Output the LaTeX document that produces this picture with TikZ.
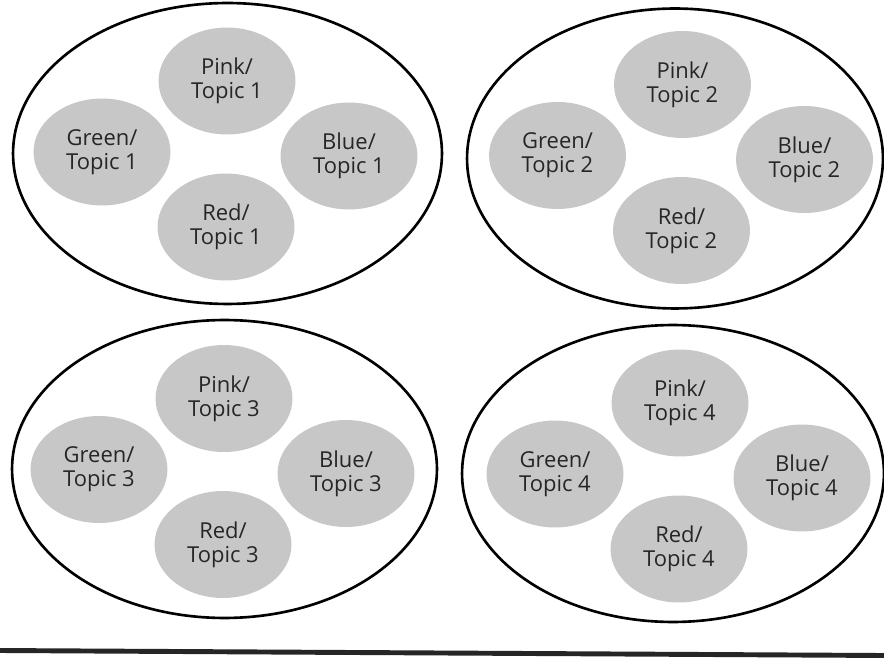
\documentclass[tikz,border=0pt]{standalone}
\usepackage{fontspec}
\setmainfont{Open Sans}
\usetikzlibrary{calc}
\usetikzlibrary{shapes}
\tikzset{
  ring/.style={draw, ellipse, line width=1.5pt, inner sep=0pt},
  topic/.style={ellipse, fill=black!22, inner sep=0pt, minimum width=2.74cm,
    minimum height=2.14cm, align=center, text=black!85,
    font=\fontsize{12.5}{13.6}\selectfont},
}
\newcommand{\topicring}[5]{
  \node[ring, minimum width=#3, minimum height=#4] (ring#1) at (#2) {};
  \node[topic] (pink#1) at ($(#5)+(1,-73)$) {Pink/\\Topic #1};
  \node[topic] (green#1) at ($(#5)+(-124,-2)$) {Green/\\Topic #1};
  \node[topic] (blue#1) at ($(#5)+(123,2)$) {Blue/\\Topic #1};
  \node[topic] (red#1) at ($(#5)+(0,73)$) {Red/\\Topic #1};
}

\begin{document}
\begin{tikzpicture}[x=0.02cm, y=-0.02cm]
  \useasboundingbox (0,0) rectangle (884,661);
  \topicring{1}{227.5,153.5}{8.58cm}{6.02cm}{226,154}
  \topicring{2}{675,158.5}{8.32cm}{6.0cm}{681.5,157.5}
  \topicring{3}{224.5,469}{8.5cm}{5.96cm}{223,471.5}
  \topicring{4}{673,473.5}{8.44cm}{5.94cm}{679,476}
  \draw[line width=2.8pt, black!85] (0,650.5) -- (884,655.5);
\end{tikzpicture}
\end{document}
